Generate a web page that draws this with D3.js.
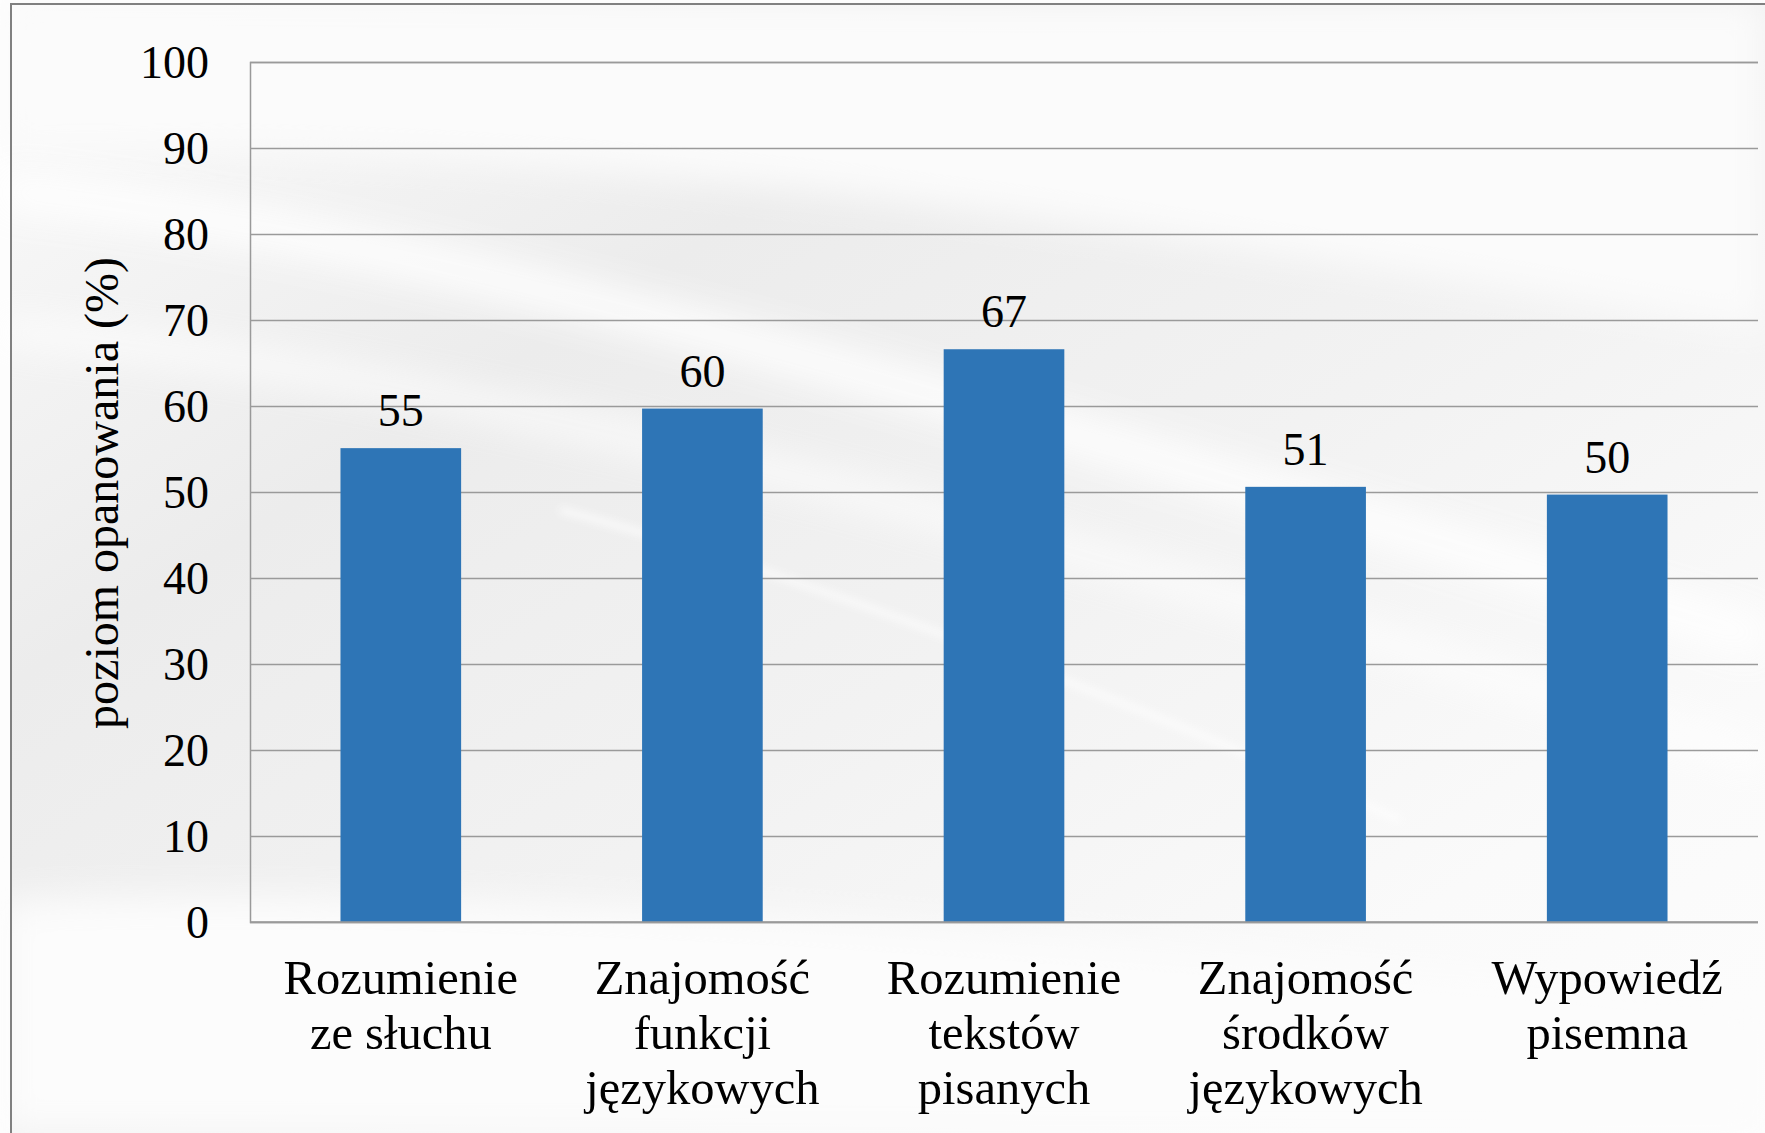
<!DOCTYPE html>
<html>
<head>
<meta charset="utf-8">
<script src="https://cdn.jsdelivr.net/npm/d3@7"></script>
<style>
  html, body { margin: 0; padding: 0; background: #ffffff; }
  svg { display: block; }
  svg text { font-family: 'Liberation Serif', 'Times New Roman', Times, 'DejaVu Serif', serif !important; fill: #000; }
</style>
</head>
<body>
<svg id="chart" width="1765" height="1133"></svg>
<script>
// ---- data ----
const categories = [
  ["Rozumienie", "ze słuchu"],
  ["Znajomość", "funkcji", "językowych"],
  ["Rozumienie", "tekstów", "pisanych"],
  ["Znajomość", "środków", "językowych"],
  ["Wypowiedź", "pisemna"]
];
const values = [55.1, 59.7, 66.6, 50.6, 49.7];
const valueLabels = ["55", "60", "67", "51", "50"];
const yTicks = [0, 10, 20, 30, 40, 50, 60, 70, 80, 90, 100];
const yTitle = "poziom opanowania (%)";

// ---- layout ----
const W = 1765, H = 1133;
const pLeft = 250, pRight = 1758, pTop = 62, pBottom = 922;
const FONT = "'Liberation Serif', 'Times New Roman', Times, 'DejaVu Serif', serif";
const svg = d3.select("#chart");

// background
const defs = svg.append("defs");
const bg = defs.append("linearGradient").attr("id", "bg")
  .attr("x1", "0").attr("y1", "0").attr("x2", "1").attr("y2", "1");
bg.append("stop").attr("offset", "0").attr("stop-color", "#fbfbfb");
bg.append("stop").attr("offset", "0.3").attr("stop-color", "#ececec");
bg.append("stop").attr("offset", "0.55").attr("stop-color", "#f2f2f2");
bg.append("stop").attr("offset", "0.8").attr("stop-color", "#fafafa");
bg.append("stop").attr("offset", "1").attr("stop-color", "#fdfdfd");
const blur = defs.append("filter").attr("id", "blur").attr("x", "-20%").attr("y", "-20%").attr("width", "140%").attr("height", "140%");
blur.append("feGaussianBlur").attr("stdDeviation", 18);
const blur2 = defs.append("filter").attr("id", "blur2").attr("x", "-20%").attr("y", "-20%").attr("width", "140%").attr("height", "140%");
blur2.append("feGaussianBlur").attr("stdDeviation", 4);

svg.append("rect").attr("x", 0).attr("y", 0).attr("width", W).attr("height", H).attr("fill", "#fdfdfd");
svg.append("rect").attr("x", 11).attr("y", 4).attr("width", W).attr("height", H).attr("fill", "url(#bg)");
svg.append("path").attr("d", "M0,0 L1765,0 L1765,330 C1300,260 700,140 0,150 Z")
  .attr("fill", "#fbfbfb").attr("filter", "url(#blur)");
svg.append("path").attr("d", "M0,190 C400,230 900,380 1765,640")
  .attr("stroke", "#ffffff").attr("stroke-width", 40).attr("fill", "none").attr("opacity", 0.9).attr("filter", "url(#blur)");
svg.append("path").attr("d", "M0,330 C500,380 1000,520 1765,760")
  .attr("stroke", "#ffffff").attr("stroke-width", 26).attr("fill", "none").attr("opacity", 0.8).attr("filter", "url(#blur)");
svg.append("path").attr("d", "M560,510 C600,520 900,600 1400,820")
  .attr("stroke", "#ffffff").attr("stroke-width", 5).attr("fill", "none").attr("opacity", 0.9).attr("filter", "url(#blur2)");
svg.append("path").attr("d", "M0,900 C600,880 1200,950 1765,1000 L1765,1133 L0,1133 Z")
  .attr("fill", "#fcfcfc").attr("filter", "url(#blur)");

// outer border
svg.append("rect").attr("x", 11).attr("y", 4).attr("width", W + 20).attr("height", H + 20)
  .attr("fill", "none").attr("stroke", "#808080").attr("stroke-width", 2);

// scales
const x = d3.scaleBand().domain(d3.range(categories.length)).range([pLeft, pRight])
  .paddingInner(0.6).paddingOuter(0.3);
const y = d3.scaleLinear().domain([0, 100]).range([pBottom, pTop]);

// gridlines + y labels
const yAxis = d3.axisLeft(y).tickValues(yTicks).tickSize(-(pRight - pLeft)).tickPadding(41)
  .tickFormat(d3.format("d"));
const gy = svg.append("g").attr("transform", `translate(${pLeft},0)`).call(yAxis)
  .attr("font-family", FONT).attr("font-size", 46);
gy.select(".domain").attr("stroke", "#999").attr("stroke-width", 1.5);
gy.selectAll(".tick line").attr("stroke", "#9a9a9a").attr("stroke-width", 1.5);
gy.selectAll(".tick text").style("font-family", FONT).attr("font-size", 46)
  .attr("fill", "#000").attr("dy", "0.33em");

// bars
svg.append("g").selectAll("rect").data(values).join("rect")
  .attr("x", (d, i) => x(i)).attr("width", x.bandwidth())
  .attr("y", d => y(d)).attr("height", d => y(0) - y(d))
  .attr("fill", "#2E75B6");

// baseline axis
svg.append("line").attr("x1", pLeft).attr("x2", pRight).attr("y1", y(0)).attr("y2", y(0))
  .attr("stroke", "#9a9a9a").attr("stroke-width", 1.5);

// value labels
svg.append("g").selectAll("text").data(values).join("text")
  .attr("x", (d, i) => x(i) + x.bandwidth() / 2).attr("y", d => y(d) - 22)
  .attr("text-anchor", "middle").attr("font-size", 46).style("font-family", FONT)
  .text((d, i) => valueLabels[i]);

// category labels
const cg = svg.append("g").selectAll("text").data(categories).join("text")
  .attr("x", (d, i) => x(i) + x.bandwidth() / 2).attr("y", 994)
  .attr("text-anchor", "middle").attr("font-size", 48.5).style("font-family", FONT);
cg.selectAll("tspan").data(d => d).join("tspan")
  .attr("x", function () { return d3.select(this.parentNode).attr("x"); })
  .attr("dy", (d, i) => i === 0 ? 0 : 55)
  .text(d => d);

// y title
svg.append("text").attr("transform", "translate(118,493) rotate(-90)")
  .attr("text-anchor", "middle").attr("font-size", 48).style("font-family", FONT).text(yTitle);
</script>
</body>
</html>
